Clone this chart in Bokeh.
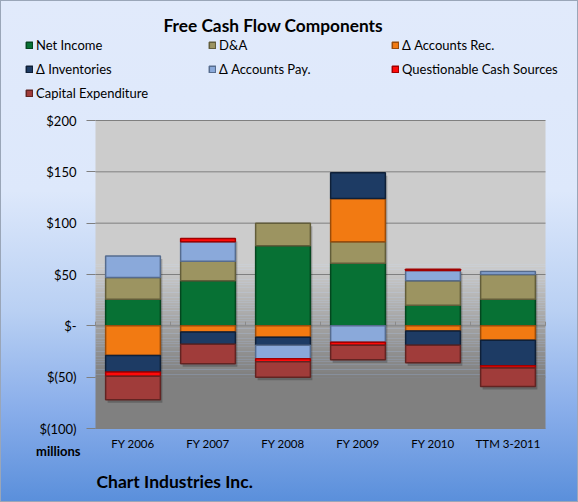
import numpy as np
from bokeh.plotting import figure
from bokeh.models import (ColumnDataSource, Range1d, FixedTicker, LinearAxis,
                          Legend, LegendItem, Label)
from bokeh.embed import file_html
from bokeh.resources import INLINE

# Free cash flow components, $ millions
categories = ["FY 2006", "FY 2007", "FY 2008", "FY 2009", "FY 2010", "TTM 3-2011"]
net_income = [26, 44, 78, 61, 20, 26]
d_and_a = [21, 19, 22, 21, 24, 24]
accounts_rec = [-29, -6, -11, 42, -5, -14]
inventories = [-16, -12, -8, 25, -14, -25]
accounts_pay = [21, 19, -13, -16, 10, 3]
questionable = [-4, 3, -3, -3, 1, -2]
capex = [-23, -19, -15, -14, -17, -18]

series_names = ["Net Income", "D&A", "\u0394 Accounts Rec.", "\u0394 Inventories",
                "\u0394 Accounts Pay.", "Questionable Cash Sources", "Capital Expenditure"]
series_values = [net_income, d_and_a, accounts_rec, inventories,
                 accounts_pay, questionable, capex]
fills = ["#077134", "#9c9461", "#f27a12", "#1d3b64", "#8aa9da", "#ff0a0a", "#a03c3a"]
edges = ["#04461f", "#625d3a", "#9a4c0a", "#0f2038", "#566c8e", "#a00000", "#622422"]

tick_values = [-100, -50, 0, 50, 100, 150, 200]
tick_labels = ["$(100)", "$(50)", "$-", "$50", "$100", "$150", "$200"]

FONT = "Lato"
W, H = 578, 502
# plot area inside the canvas, in pixels
AREA_L, AREA_R, AREA_T, AREA_B = 95, 545, 120, 428
Y_MIN, Y_MAX = -100, 200

n = len(categories)
x_per_px = n / (AREA_R - AREA_L)
y_per_px = (Y_MAX - Y_MIN) / (AREA_B - AREA_T)
x_start = -AREA_L * x_per_px
y_end = Y_MAX + AREA_T * y_per_px


def px_x(px):
    return x_start + px * x_per_px


def px_y(px):
    return y_end - px * y_per_px


p = figure(width=W, height=H, output_backend="svg", toolbar_location=None, title=None,
           x_range=Range1d(x_start, px_x(W)), y_range=Range1d(px_y(H), y_end),
           x_axis_type=None, y_axis_type=None, min_border=0)
p.styles = {"background": "linear-gradient(to bottom, #e1eafb 0%, #dde8fb 38%, "
                          "#b9d0f3 62%, #88adea 82%, #5a8fdb 100%)",
            "box-shadow": "inset 0 0 0 1px #9aa6b8"}
p.border_fill_alpha = 0
p.background_fill_alpha = 0
p.outline_line_color = None

# plot-area shading: flat light gray on top, darkening toward the bottom
p.quad(left=[0], right=[n], bottom=[60], top=[Y_MAX],
       fill_color="#cccccc", line_color=None, level="underlay")
edges_y = np.linspace(-50, 60, 45)
shade = np.linspace(0x80, 0xcc, 44)
p.quad(left=[0] * 44, right=[n] * 44,
       bottom=edges_y[:-1].tolist(), top=edges_y[1:].tolist(),
       fill_color=["#%02x%02x%02x" % (int(s), int(s), int(s)) for s in shade],
       line_color=None, level="underlay")
p.quad(left=[0], right=[n], bottom=[Y_MIN], top=[-50],
       fill_color="#808080", line_color=None, level="underlay")

# horizontal gridlines across the plot area
p.segment(x0=[0] * len(tick_values), x1=[n] * len(tick_values),
          y0=tick_values, y1=tick_values, line_color="#7f7f7f", line_width=1,
          level="underlay")

# small category tick marks sitting on the zero line
bounds = list(range(n + 1))
p.segment(x0=bounds, x1=bounds, y0=[0] * len(bounds), y1=[4] * len(bounds),
          line_color="#8a8a8a", line_width=1, level="underlay")

# stacked segments: positives stack upward from zero, negatives downward
centers = np.arange(n) + 0.5
pos_base = np.zeros(n)
neg_base = np.zeros(n)
segments = []
for name, vals, fc, ec in zip(series_names, series_values, fills, edges):
    v = np.array(vals, dtype=float)
    bottom = np.where(v >= 0, pos_base, neg_base + v)
    top = np.where(v >= 0, pos_base + v, neg_base)
    pos_base = pos_base + np.where(v >= 0, v, 0)
    neg_base = neg_base + np.where(v < 0, v, 0)
    segments.append((name, fc, ec, bottom, top))

# soft drop shadow behind each column, nudged right and down
shadow_dx, shadow_dy = 2 * x_per_px, 3 * y_per_px
p.vbar(x=(centers + shadow_dx).tolist(), bottom=(neg_base - shadow_dy).tolist(),
       top=(pos_base - shadow_dy).tolist(), width=0.73, fill_color="#000000",
       fill_alpha=0.22, line_color=None)

items = []
for name, fc, ec, bottom, top in segments:
    src = ColumnDataSource(dict(x=centers, bottom=bottom, top=top))
    r = p.vbar(x="x", bottom="bottom", top="top", width=0.73, source=src,
               fill_color=fc, line_color=ec, line_width=1.5)
    items.append(LegendItem(label=name, renderers=[r]))

# value axis on the left edge of the plot area
yaxis = LinearAxis(fixed_location=0, ticker=FixedTicker(ticks=tick_values),
                   major_label_overrides={v: t for v, t in zip(tick_values, tick_labels)},
                   major_label_text_font=FONT, major_label_text_font_size="13px",
                   major_label_text_color="#000000", major_label_standoff=10,
                   axis_line_color=None, major_tick_line_color="#7f7f7f",
                   major_tick_out=9, major_tick_in=0, minor_tick_line_color=None)
p.add_layout(yaxis, "left")

# category axis along the bottom of the plot area
xaxis = LinearAxis(fixed_location=Y_MIN, ticker=FixedTicker(ticks=centers.tolist()),
                   major_label_overrides={float(c): lab for c, lab in zip(centers, categories)},
                   major_label_text_font=FONT, major_label_text_font_size="11.5px",
                   major_label_text_color="#000000", major_label_standoff=8,
                   axis_line_color=None, major_tick_line_color=None,
                   major_tick_out=0, major_tick_in=0, minor_tick_line_color=None)
p.add_layout(xaxis, "below")

legend = Legend(items=items, orientation="horizontal", ncols=3,
                location=(25, H - 35 - 68), padding=0, margin=0, spacing=4,
                glyph_width=8, glyph_height=8, label_standoff=3, label_width=168,
                label_height=20, label_text_font=FONT, label_text_font_size="13px",
                label_text_color="#000000", background_fill_alpha=0,
                border_line_color=None)
p.add_layout(legend, "center")

p.add_layout(Label(x=px_x(163), y=px_y(25), text="Free Cash Flow Components",
                   text_font=FONT, text_font_size="17.3px", text_font_style="bold",
                   text_baseline="middle", text_color="#000000"))
p.add_layout(Label(x=px_x(80), y=px_y(450), text="millions", text_font=FONT,
                   text_font_size="13px", text_font_style="bold", text_align="right",
                   text_baseline="middle", text_color="#000000"))
p.add_layout(Label(x=px_x(96), y=px_y(481), text="Chart Industries Inc.",
                   text_font=FONT, text_font_size="17.5px", text_font_style="bold",
                   text_baseline="middle", text_color="#000000"))

open("out.html", "w").write(file_html(p, INLINE))
